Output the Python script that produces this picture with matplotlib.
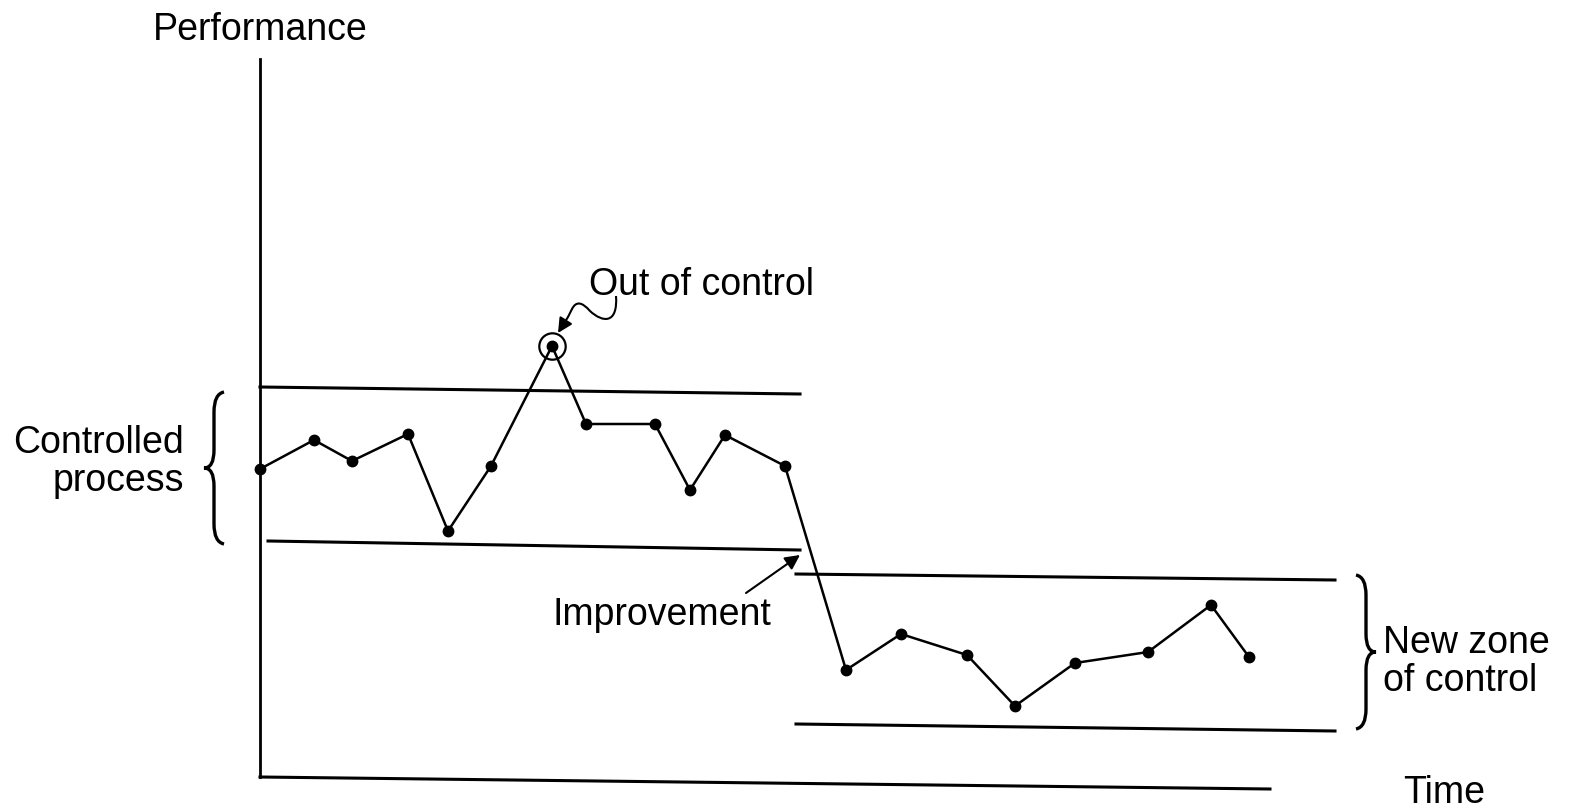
import matplotlib
matplotlib.use("Agg")
import matplotlib.pyplot as plt
from matplotlib.path import Path
import matplotlib.patches as mpatches

plt.rcParams['font.family'] = ['Liberation Sans', 'DejaVu Sans']

# performance readings over time (arbitrary units, origin at axis corner)
time = [0, 5.4, 9.2, 14.8, 18.8, 23.1, 29.2, 32.6, 39.5, 43.0,
        46.5, 52.5, 58.6, 64.1, 70.7, 75.5, 81.5, 88.8, 95.1, 98.9]
perf = [30.8, 33.7, 31.6, 34.3, 24.6, 31.1, 43.1, 35.3, 35.3, 28.7,
        34.2, 31.1, 10.7, 14.3, 12.2, 7.1, 11.4, 12.5, 17.2, 12.0]
out_idx = 6  # the out of control point

# control limits: (t_start, t_end, value_start, value_end)
old_upper = (0, 54, 39.0, 38.3)
old_lower = (0.8, 54, 23.6, 22.7)
new_upper = (53.6, 107.5, 20.3, 19.7)
new_lower = (53.6, 107.5, 5.3, 4.6)


def px(x, y):
    # helper for annotation placement
    return ((x - 260) / 10.0, (778 - y) / 10.0)


fig = plt.figure(figsize=(15.79, 8.12), dpi=100)
ax = fig.add_axes([0, 0, 1, 1])
ax.set_xlim(-26, 131.9)
ax.set_ylim(-3.4, 77.8)
ax.set_axis_off()

# axes
ax.plot([0, 0], [0, 71.8], color='black', lw=2)
ax.plot([0, 101], [0, -1.2], color='black', lw=2.2)

# control lines
for t0, t1, v0, v1 in [old_upper, old_lower, new_upper, new_lower]:
    ax.plot([t0, t1], [v0, v1], color='black', lw=2.2)

# the process line
ax.plot(time, perf, color='black', lw=1.8, marker='o', markersize=7.5)
ax.plot(time[out_idx], perf[out_idx], marker='o', markersize=19,
        markerfacecolor='none', markeredgecolor='black', markeredgewidth=1.6)


def brace(xs, ytop, ybot, h, c=1.8):
    ym = (ytop + ybot) / 2.0
    verts = [(xs + h, ytop + 0.2), (xs, ytop), (xs, ytop - c),
             (xs, ym + c), (xs, ym), (xs - h, ym),
             (xs, ym), (xs, ym - c),
             (xs, ybot + c), (xs, ybot), (xs + h, ybot - 0.2)]
    codes = [Path.MOVETO, Path.CURVE3, Path.CURVE3,
             Path.LINETO, Path.CURVE3, Path.CURVE3,
             Path.CURVE3, Path.CURVE3,
             Path.LINETO, Path.CURVE3, Path.CURVE3]
    ax.add_patch(mpatches.PathPatch(Path(verts, codes), fill=False,
                                    lw=2.4, color='black'))


brace(-4.6, 38.3, 23.5, 1.0)
brace(110.6, 20.0, 5.0, -1.0)

# squiggle to the out of control point
sq = [px(616, 297), px(618, 325), px(603, 324), px(590, 312),
      px(578, 298), px(572, 310), px(568, 318)]
codes = [Path.MOVETO, Path.CURVE4, Path.CURVE4, Path.CURVE4,
         Path.CURVE3, Path.CURVE3, Path.LINETO]
ax.add_patch(mpatches.PathPatch(Path(sq, codes), fill=False, lw=1.5,
                                color='black'))
ax.annotate('', xy=px(558, 334), xytext=px(568, 318),
            arrowprops=dict(arrowstyle='-|>', color='black', lw=1.5,
                            mutation_scale=22, shrinkA=0, shrinkB=0))

# improvement arrow
ax.annotate('', xy=px(800, 556), xytext=px(746, 594),
            arrowprops=dict(arrowstyle='-|>', color='black', lw=1.5,
                            mutation_scale=22, shrinkA=0, shrinkB=0))

fs = 27
ax.text(0, 74.8, 'Performance', fontsize=fs, ha='center', va='center')
ax.text(32.9, 49.3, 'Out of control', fontsize=fs, ha='left', va='center')
ax.text(-7.6, 31.6, 'Controlled\nprocess', fontsize=fs, ha='right',
        va='center', multialignment='right', linespacing=1.08)
ax.text(29.2, 16.3, 'Improvement', fontsize=fs, ha='left', va='center')
ax.text(112.3, 11.6, 'New zone\nof control', fontsize=fs, ha='left',
        va='center', linespacing=1.1)
ax.text(114.3, -1.5, 'Time', fontsize=fs, ha='left', va='center')

fig.savefig('out.png', dpi=100, facecolor='white')
